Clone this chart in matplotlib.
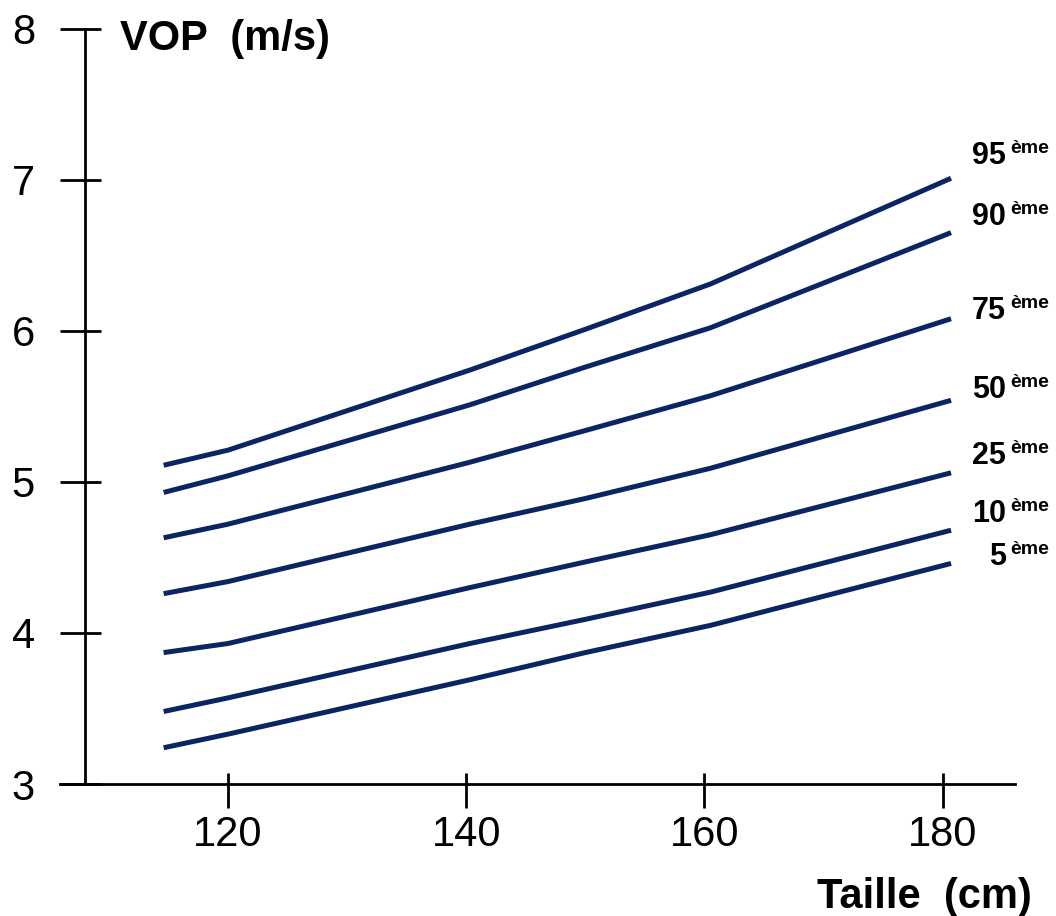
import matplotlib
matplotlib.use("Agg")
import matplotlib.pyplot as plt
from matplotlib.ticker import FixedLocator

plt.rcParams['font.family'] = ['Liberation Sans', 'DejaVu Sans']

# ---- data ----
heights = [114.6, 120, 140.3, 150, 160.5, 180.7]
p95 = [5.11, 5.21, 5.74, 6.01, 6.31, 7.01]
p90 = [4.93, 5.04, 5.51, 5.76, 6.02, 6.65]
p75 = [4.63, 4.72, 5.13, 5.34, 5.57, 6.08]
p50 = [4.26, 4.34, 4.72, 4.89, 5.09, 5.54]
p25 = [3.87, 3.93, 4.30, 4.47, 4.65, 5.06]
p10 = [3.48, 3.57, 3.93, 4.09, 4.27, 4.68]
p5 = [3.24, 3.33, 3.69, 3.87, 4.05, 4.46]
percentile_labels = ["95", "90", "75", "50", "25", "10", "5"]
x_ticks = [120, 140, 160, 180]
y_ticks = [3, 4, 5, 6, 7, 8]

series = [p95, p90, p75, p50, p25, p10, p5]
# label baseline offsets relative to line end (pixels, layout only)
label_offsets_px = [14, 8, 0, 2, 9, 8, -2]

W, H = 1056, 916
fig = plt.figure(figsize=(W / 100, H / 100), dpi=100)
ax = fig.add_axes([60 / W, (H - 784) / H, 955 / W, (784 - 28.7) / H])
ax.set_xlim(105.9, 186.07)
ax.set_ylim(3, 8)

line_color = '#0b2463'
for vals in series:
    ax.plot(heights, vals, color=line_color, lw=3.6, solid_capstyle='butt',
            solid_joinstyle='round')

# spines
for s in ['top', 'right']:
    ax.spines[s].set_visible(False)
ax.spines['left'].set_position(('data', 108.0))
ax.spines['left'].set_linewidth(2.0)
ax.spines['bottom'].set_linewidth(2.0)

# ticks: major outward, minor inward at same positions
ax.xaxis.remove_overlapping_locs = False
ax.yaxis.remove_overlapping_locs = False
ax.set_xticks(x_ticks)
ax.set_yticks(y_ticks)
ax.xaxis.set_minor_locator(FixedLocator(x_ticks))
ax.yaxis.set_minor_locator(FixedLocator(y_ticks))
ax.tick_params(axis='x', which='major', direction='out', length=17, width=2.0,
               labelsize=30, pad=5)
ax.tick_params(axis='x', which='minor', direction='in', length=8, width=2.0)
ax.tick_params(axis='y', which='major', direction='out', length=18, width=2.0,
               labelsize=30, pad=18)
ax.tick_params(axis='y', which='minor', direction='in', length=11.5, width=2.0)
ax.set_yticklabels([str(v) for v in y_ticks])
ax.set_xticklabels([str(v) for v in x_ticks])

# percentile labels at right
px_per_unit = (784 - 28.7) / 5
for lab, vals, off in zip(percentile_labels, series, label_offsets_px):
    yb = vals[-1] + off / px_per_unit
    ax.text(185.3, yb, lab, ha='right', va='baseline', fontsize=22,
            fontweight='bold', clip_on=False)
    ax.text(185.65, yb + 11 / px_per_unit, "ème", ha='left', va='baseline',
            fontsize=14, fontweight='bold', clip_on=False)

# axis titles
fig.text(120 / W, (H - 50) / H, "VOP  (m/s)", ha='left', va='baseline',
         fontsize=30, fontweight='bold')
fig.text(1032 / W, (H - 908) / H, "Taille  (cm)", ha='right', va='baseline',
         fontsize=30, fontweight='bold')

fig.savefig("out.png", dpi=100)
